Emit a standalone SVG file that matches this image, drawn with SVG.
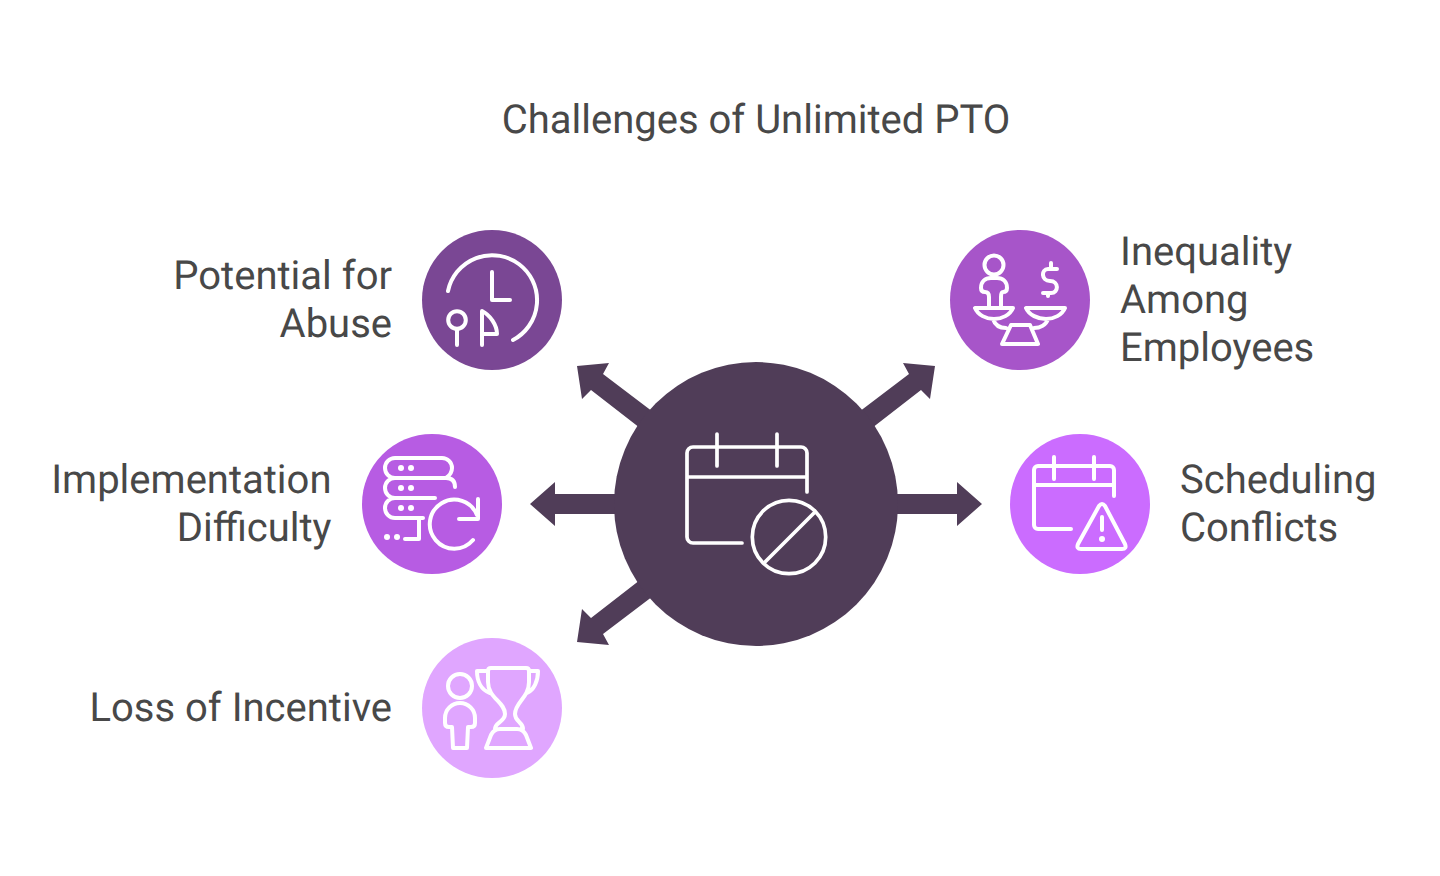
<svg xmlns="http://www.w3.org/2000/svg" width="1440" height="876" viewBox="0 0 1440 876">
<style>
text{font-family:Roboto,"Liberation Sans",sans-serif;font-size:40px;fill:#484848;text-rendering:geometricPrecision}
.e{text-anchor:end}
.i{fill:none;stroke:#fff;stroke-width:4;stroke-linecap:round;stroke-linejoin:round}
.c{stroke-width:3.700}
.d{fill:#fff;stroke:none}
.a{fill:#503d58}
</style>
<rect width="1440" height="876" fill="#fff"/>
<text id="title" x="756" y="133.300" text-anchor="middle">Challenges of Unlimited PTO</text>
<g id="connectors">
<polygon class="a" points="661,418 603,374 609,363 577,366 582,399 591,390 649,435"/>
<polygon class="a" points="851,418 909,374 903,363 935,366 930,399 921,390 863,435"/>
<polygon class="a" points="625,494 555,494 555,482 530,504 555,526 555,514 625,514"/>
<polygon class="a" points="887,494 957,494 957,482 982,504 957,526 957,514 887,514"/>
<polygon class="a" points="661,590 603,634 609,645 577,642 582,609 591,618 649,573"/>
</g>
<g id="center">
<circle class="a" cx="756" cy="504" r="142"/>
<path class="i c" d="M807 492V453a6 6 0 0 0-6-6H693a6 6 0 0 0-6 6V537a6 6 0 0 0 6 6H742M687 477H807M717 434V466M777 434V466M814 513L765 562"/>
<circle class="i c" cx="789" cy="537" r="36.700"/>
</g>
<g id="node-abuse">
<circle cx="492" cy="300" r="70" fill="#7a4794"/>
<path class="i" d="M448 291A45 45 0 1 1 513 340M492 272V300H510M457 329V345M482 345V311C490 315 497 325 497 334H482"/>
<circle class="i" cx="457" cy="320" r="8.800"/>
<text class="e" x="392" y="289.300">Potential for</text>
<text class="e" x="392" y="337.300">Abuse</text>
</g>
<g id="node-inequality">
<circle cx="1020" cy="300" r="70" fill="#a755c9"/>
<circle class="i" cx="994" cy="265" r="9.500"/>
<path class="i" d="M989 307V297Q989 292 985 292Q981 292 981 288C981 282 985 278 991 278H997C1003 278 1007 282 1007 288Q1007 292 1003 292Q1001 292 1001 297V307M975 308H1013C1010 315 1002 319 994 319S978 315 975 308ZM1026 308H1065C1062 315 1054 319 1046 319S1029 315 1026 308ZM993 319C995 325 1000 328 1006 328M1048 319C1046 325 1040 328 1034 328M1011 325H1030L1038 344H1002ZM1057 269H1048C1041 269 1041 281 1050 281C1059 281 1059 293 1051 293H1043M1051 263V269M1048 293V296"/>
<text x="1120" y="265.300">Inequality</text>
<text x="1120" y="313.300">Among</text>
<text x="1120" y="361.300">Employees</text>
</g>
<g id="node-implementation">
<circle cx="432" cy="504" r="70" fill="#b75ce3"/>
<path class="i" d="M455 487C455 482 453 478 446 478H395A10 10 0 0 1 395 458H442A10 10 0 0 1 452 468Q452 474 446 478M395 478A10 10 0 0 0 395 498H435M395 498A10 10 0 0 0 395 518H423M419 519V539H405M473 540A24.500 24.500 0 1 1 477 515M478 499V519H459"/>
<g class="d"><circle cx="401" cy="468" r="3"/><circle cx="411" cy="468" r="3"/><circle cx="401" cy="488" r="3"/><circle cx="411" cy="488" r="3"/><circle cx="401" cy="508" r="3"/><circle cx="411" cy="508" r="3"/><circle cx="387" cy="537" r="3"/><circle cx="397" cy="537" r="3"/></g>
<text class="e" x="331.500" y="493.300">Implementation</text>
<text class="e" x="331.500" y="541.300">Difficulty</text>
</g>
<g id="node-scheduling">
<circle cx="1080" cy="504" r="70" fill="#cb6cff"/>
<path class="i" d="M1114 496V470a4 4 0 0 0-4-4H1038a4 4 0 0 0-4 4V525a4 4 0 0 0 4 4H1071M1034 485H1114M1054 457V479M1094 457V479M1099 506Q1102 502 1105 506L1125 544Q1127 549 1122 549H1081Q1076 549 1078 544ZM1102 517V530"/>
<circle class="d" cx="1102" cy="539" r="3"/>
<text x="1180" y="493.300">Scheduling</text>
<text x="1180" y="541.300">Conflicts</text>
</g>
<g id="node-incentive">
<circle cx="492" cy="708" r="70" fill="#e0a6ff"/>
<circle class="i" cx="460" cy="686" r="12"/>
<path class="i" d="M452 727H449Q445 727 445 723V718A15 15 0 0 1 475 718V723Q475 727 471 727H468L467 748H453ZM491 668H526Q529 668 529 671V682C529 698 515 702 515 714C515 722 523 722 523 729M491 668Q488 668 488 671V682C488 698 505 702 505 714C505 722 495 722 495 729M486 748L491 735Q494 729 500 729H517Q523 729 526 735L531 748ZM488 671H477C477 681 481 690 490 693M529 671H538C538 681 534 690 527 693"/>
<text class="e" x="392" y="721.300">Loss of Incentive</text>
</g>
</svg>
